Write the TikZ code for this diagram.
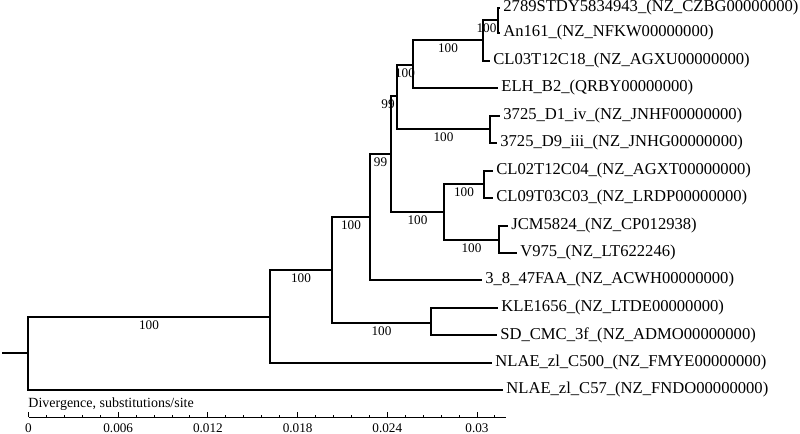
\documentclass[tikz,border=0pt]{standalone}
\usepackage{fontspec}
\setmainfont{Liberation Serif}
\usepackage{tikz}
\tikzset{branch/.style={line width=1pt}}
\tikzset{leaf/.style={anchor=west,inner sep=1.5pt,font=\fontsize{8.3}{9}\selectfont}}
\tikzset{support/.style={below,inner sep=1.5pt,font=\fontsize{6.6}{7}\selectfont}}
\tikzset{axislabel/.style={inner sep=1pt,font=\fontsize{6.6}{7}\selectfont}}

\begin{document}
\begin{tikzpicture}[x=0.5pt,y=-0.5pt]
    \useasboundingbox (0,0) rectangle (800,434);
    % inner nodes of the tree
    \coordinate (stub) at (2,353);
    \coordinate (root) at (28,353);
    \coordinate (n1) at (270,316.5);
    \coordinate (n2) at (332,269.5);
    \coordinate (n3) at (431,322.5);
    \coordinate (n4) at (370,217);
    \coordinate (n5) at (391,154);
    \coordinate (n6) at (397,96);
    \coordinate (n7) at (413,64.5);
    \coordinate (n8) at (483,40);
    \coordinate (n9) at (498,20);
    \coordinate (n10) at (490,129);
    \coordinate (n11) at (444,212);
    \coordinate (n12) at (484,184);
    \coordinate (n13) at (499,239.5);
    % leaves
    \node[leaf] (l2789) at (500,8) {2789STDY5834943\_(NZ\_CZBG00000000)};
    \node[leaf] (lAn) at (500,33) {An161\_(NZ\_NFKW00000000)};
    \node[leaf] (lCL03) at (490,61) {CL03T12C18\_(NZ\_AGXU00000000)};
    \node[leaf] (lELH) at (498,88) {ELH\_B2\_(QRBY00000000)};
    \node[leaf] (lD1) at (500,115.5) {3725\_D1\_iv\_(NZ\_JNHF00000000)};
    \node[leaf] (lD9) at (497,143) {3725\_D9\_iii\_(NZ\_JNHG00000000)};
    \node[leaf] (lCL02) at (493,170.5) {CL02T12C04\_(NZ\_AGXT00000000)};
    \node[leaf] (lCL09) at (493,198) {CL09T03C03\_(NZ\_LRDP00000000)};
    \node[leaf] (lJCM) at (508,225.5) {JCM5824\_(NZ\_CP012938)};
    \node[leaf] (lV975) at (517,253) {V975\_(NZ\_LT622246)};
    \node[leaf] (l3847) at (482,280) {3\_8\_47FAA\_(NZ\_ACWH00000000)};
    \node[leaf] (lKLE) at (498,308) {KLE1656\_(NZ\_LTDE00000000)};
    \node[leaf] (lSD) at (497,335) {SD\_CMC\_3f\_(NZ\_ADMO00000000)};
    \node[leaf] (lC500) at (492,362.5) {NLAE\_zl\_C500\_(NZ\_FMYE00000000)};
    \node[leaf] (lC57) at (503,390) {NLAE\_zl\_C57\_(NZ\_FNDO00000000)};
    % branches
    \draw[branch] (stub) -- (root);
    \draw[branch] (root) |- (n1) node[support,pos=0.75] {100};
    \draw[branch] (root) |- (lC57.west);
    \draw[branch] (n1) |- (n2) node[support,pos=0.75] {100};
    \draw[branch] (n1) |- (lC500.west);
    \draw[branch] (n2) |- (n4) node[support,pos=0.75] {100};
    \draw[branch] (n2) |- (n3) node[support,pos=0.75] {100};
    \draw[branch] (n3) |- (lKLE.west);
    \draw[branch] (n3) |- (lSD.west);
    \draw[branch] (n4) |- (n5) node[support,pos=0.75] {99};
    \draw[branch] (n4) |- (l3847.west);
    \draw[branch] (n5) |- (n6) node[support,pos=0.75,xshift=-3pt] {99};
    \draw[branch] (n5) |- (n11) node[support,pos=0.75] {100};
    \draw[branch] (n6) |- (n7) node[support,pos=0.75] {100};
    \draw[branch] (n6) |- (n10) node[support,pos=0.75] {100};
    \draw[branch] (n7) |- (n8) node[support,pos=0.75] {100};
    \draw[branch] (n7) |- (lELH.west);
    \draw[branch] (n8) |- (n9) node[support,pos=0.75,xshift=-2pt] {100};
    \draw[branch] (n8) |- (lCL03.west);
    \draw[branch] (n9) |- (l2789.west);
    \draw[branch] (n9) |- (lAn.west);
    \draw[branch] (n10) |- (lD1.west);
    \draw[branch] (n10) |- (lD9.west);
    \draw[branch] (n11) |- (n12) node[support,pos=0.75] {100};
    \draw[branch] (n11) |- (n13) node[support,pos=0.75] {100};
    \draw[branch] (n12) |- (lCL02.west);
    \draw[branch] (n12) |- (lCL09.west);
    \draw[branch] (n13) |- (lJCM.west);
    \draw[branch] (n13) |- (lV975.west);
    % scale bar
    \node[axislabel,anchor=west,font=\fontsize{7}{8}\selectfont] (title) at (26,404) {Divergence, substitutions/site};
    \draw[line width=0.5pt] (28.5,417) -- (506,417);
    \foreach \i in {0,...,26} {
        \pgfmathsetmacro{\tx}{28.5+\i*17.94}
        \pgfmathtruncatemacro{\major}{mod(\i,5)==0}
        \ifnum\major=1
            \draw[line width=0.5pt] (\tx,417) -- (\tx,412);
        \else
            \draw[line width=0.5pt] (\tx,417) -- (\tx,414.5);
        \fi
    }
    \foreach \v [count=\k from 0] in {0,0.006,0.012,0.018,0.024,0.03} {
        \node[axislabel] (tick\k) at (28.5+\k*89.7,428) {\v};
    }
\end{tikzpicture}
\end{document}
